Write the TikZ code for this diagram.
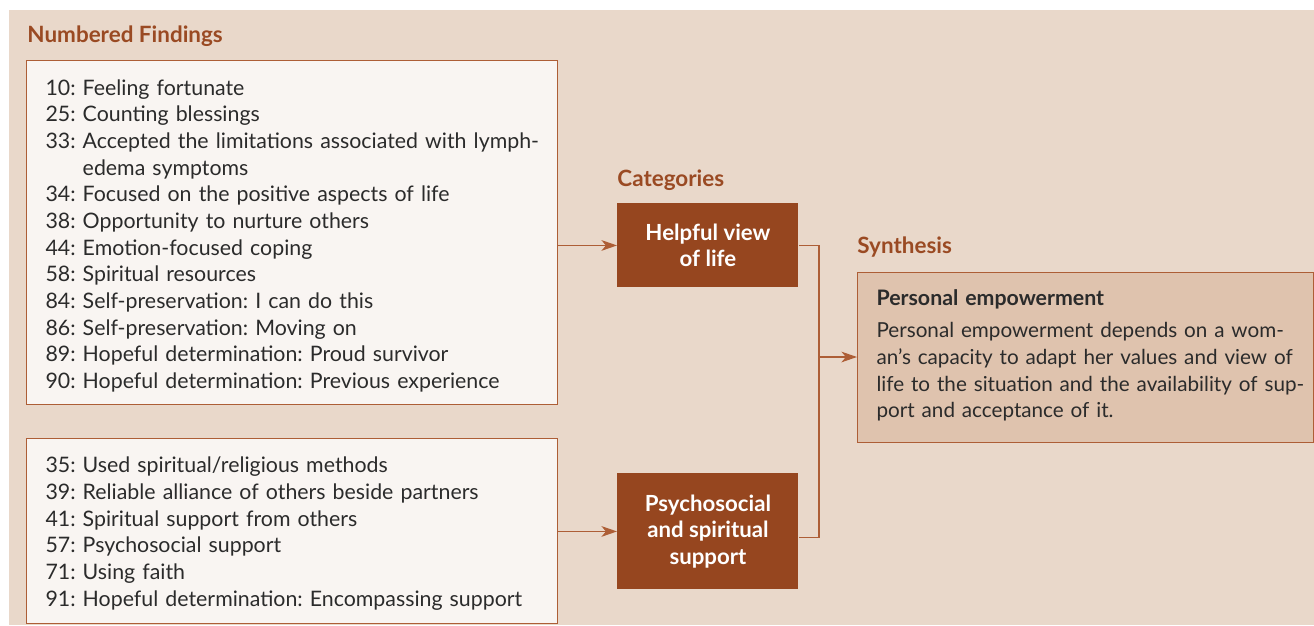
\documentclass[tikz,border=0pt]{standalone}
\usepackage{fontspec}
\setmainfont{Lato}
\usetikzlibrary{arrows.meta,positioning}
\definecolor{bgtan}{HTML}{E9D8CA}
\definecolor{boxwhite}{HTML}{F9F5F2}
\definecolor{rust}{HTML}{96461F}
\definecolor{rustline}{HTML}{AD5E36}
\definecolor{headbrown}{HTML}{9A4A23}
\definecolor{synthfill}{HTML}{DFC3AE}
\definecolor{txt}{HTML}{2B2B2B}
\frenchspacing

\begin{document}
\begin{tikzpicture}[x=0.45pt,y=-0.45pt,
	every node/.style={font=\fontsize{9.6}{12}\selectfont, text=txt},
	heading/.style={anchor=west, inner sep=0pt, font=\fontsize{10.1}{12}\selectfont\bfseries, text=headbrown},
	findings/.style={draw=rustline, line width=0.6pt, fill=boxwhite, anchor=north west, align=left, text width=222pt, inner xsep=8.5pt, inner ysep=0pt},
	category/.style={fill=rust, text=white, font=\fontsize{10}{12}\selectfont\bfseries, align=center, minimum width=81.45pt, anchor=north west},
	link/.style={draw=rustline, line width=0.55pt},
	arrowlink/.style={link, -{Stealth[length=7pt,width=4.8pt,inset=2pt]}}]
	\useasboundingbox (0,0) rectangle (1314,625);
	\fill [bgtan] (9,10) rectangle (1314,625);
	% headings
	\node [heading] (hfind) at (27,36) {Numbered Findings};
	\node [heading] (hcat) at (617,180) {Categories};
	\node [heading] (hsyn) at (857,247) {Synthesis};
	% findings
	\node [findings, minimum height=154.8pt] (find1) at (26,60) {%
		\mbox{\rule{0pt}{9.9pt}10: Feeling fortunate}\\
		\mbox{25: Counting blessings}\\
		\mbox{33: Accepted the limitations associated with lymph-}\\
		\mbox{\phantom{33: }edema symptoms}\\
		\mbox{34: Focused on the positive aspects of life}\\
		\mbox{38: Opportunity to nurture others}\\
		\mbox{44: Emotion-focused coping}\\
		\mbox{58: Spiritual resources}\\
		\mbox{84: Self-preservation: I can do this}\\
		\mbox{86: Self-preservation: Moving on}\\
		\mbox{89: Hopeful determination: Proud survivor}\\
		\mbox{90: Hopeful determination: Previous experience}};
	\node [findings, minimum height=83.25pt] (find2) at (26,438) {%
		\mbox{\rule{0pt}{9.3pt}35: Used spiritual/religious methods}\\
		\mbox{39: Reliable alliance of others beside partners}\\
		\mbox{41: Spiritual support from others}\\
		\mbox{57: Psychosocial support}\\
		\mbox{71: Using faith}\\
		\mbox{91: Hopeful determination: Encompassing support}};
	% categories
	\node [category, minimum height=37.8pt] (helpful) at (617,203) {Helpful view\\of life};
	\node [category, minimum height=52.2pt] (support) at (617,473) {Psychosocial\\and spiritual\\support};
	% synthesis
	\node [findings, fill=synthfill, text width=188.1pt, minimum height=76.5pt, font=\fontsize{9.3}{12}\selectfont] (synth) at (857,272) {%
		\mbox{\fontsize{9.6}{12}\selectfont\textbf{Personal empowerment}}\\[2.4pt]
		\mbox{Personal empowerment depends on a wom-}\\
		\mbox{an’s capacity to adapt her values and view of}\\
		\mbox{life to the situation and the availability of sup-}\\
		\mbox{port and acceptance of it.}\vspace*{1.8pt}};
	% connectors
	\coordinate (join) at (819,357);
	\draw [arrowlink] (find1.east |- helpful.west) -- (helpful.west);
	\draw [arrowlink] (find2.east |- support.west) -- (support.west);
	\draw [link] (helpful.east) -| (join) |- ([yshift=-2.7pt]support.east);
	\draw [arrowlink] (join) -- (synth.west |- join);
\end{tikzpicture}
\end{document}
